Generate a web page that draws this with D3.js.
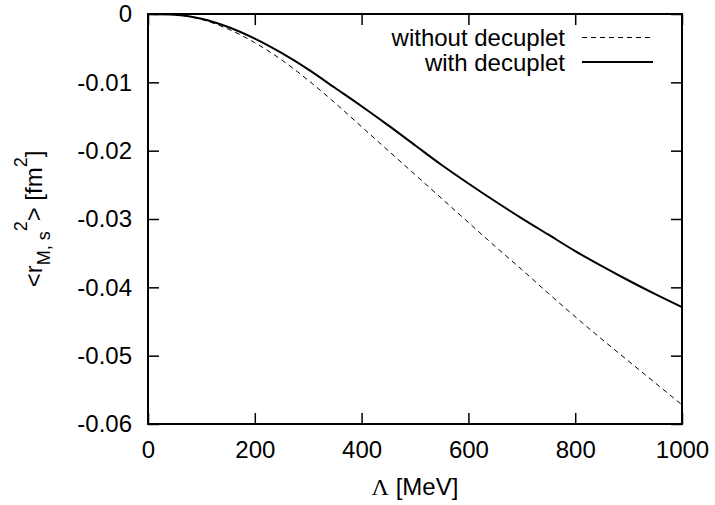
<!DOCTYPE html>
<html>
<head>
<meta charset="utf-8">
<script src="https://cdn.jsdelivr.net/npm/d3@7"></script>
<style>
  html, body { margin: 0; padding: 0; background: #fff; }
  svg { display: block; }
  text { font-family: "Liberation Sans", Arial, Helvetica, sans-serif; fill: #000; }
</style>
</head>
<body>
<svg id="chart" width="715" height="505"></svg>
<script>
// ---- data ----
const lambda = [0, 50, 100, 150, 200, 250, 300, 350, 400, 450, 500, 550, 600, 650, 700, 750, 800, 850, 900, 950, 1000];
const withDecuplet = [0, -0.0001, -0.0007, -0.0019, -0.0036, -0.0057, -0.0081, -0.0108, -0.0135, -0.0163, -0.0192, -0.0221, -0.0248, -0.0274, -0.0299, -0.0323, -0.0347, -0.0369, -0.0390, -0.0410, -0.0429];
const withoutDecuplet = [0, -0.0001, -0.0008, -0.0022, -0.0042, -0.0067, -0.0097, -0.0130, -0.0165, -0.0200, -0.0235, -0.0270, -0.0305, -0.0340, -0.0374, -0.0409, -0.0443, -0.0476, -0.0508, -0.0540, -0.0572];
const xTicks = [0, 200, 400, 600, 800, 1000];
const yTicks = [0, -0.01, -0.02, -0.03, -0.04, -0.05, -0.06];
const yTickLabels = ["0", "-0.01", "-0.02", "-0.03", "-0.04", "-0.05", "-0.06"];
const seriesNames = ["without decuplet", "with decuplet"];

// ---- layout ----
const L = 148, R = 682, T = 14, B = 424;
const FS = 24;
const svg = d3.select("#chart");

const x = d3.scaleLinear().domain([0, 1000]).range([L, R]);
const y = d3.scaleLinear().domain([-0.06, 0]).range([B, T]);

const tick = 11;
function styleAxis(g) {
  g.select(".domain").remove();
  g.selectAll(".tick line").attr("stroke", "#000").attr("stroke-width", 1.5);
  g.selectAll("text").attr("font-size", FS).attr("font-family", "'Liberation Sans', Arial, sans-serif").attr("fill", "#000");
}

svg.append("g").attr("transform", `translate(0,${B})`)
  .call(d3.axisBottom(x).tickValues(xTicks).tickFormat(d3.format("d")).tickSizeInner(-tick).tickSizeOuter(0).tickPadding(17))
  .call(styleAxis);
svg.append("g").attr("transform", `translate(0,${T})`)
  .call(d3.axisTop(x).tickValues(xTicks).tickFormat("").tickSizeInner(-tick).tickSizeOuter(0))
  .call(styleAxis);
svg.append("g").attr("transform", `translate(${L},0)`)
  .call(d3.axisLeft(y).tickValues(yTicks).tickFormat((d, i) => yTickLabels[i]).tickSizeInner(-tick).tickSizeOuter(0).tickPadding(16))
  .call(styleAxis);
svg.append("g").attr("transform", `translate(${R},0)`)
  .call(d3.axisRight(y).tickValues(yTicks).tickFormat("").tickSizeInner(-tick).tickSizeOuter(0))
  .call(styleAxis);

// frame
svg.append("rect").attr("x", L).attr("y", T).attr("width", R - L).attr("height", B - T)
  .attr("fill", "none").attr("stroke", "#000").attr("stroke-width", 2);

// curves
const line = d3.line().x((d, i) => x(lambda[i])).y(d => y(d)).curve(d3.curveMonotoneX);
svg.append("path").datum(withoutDecuplet).attr("d", line)
  .attr("fill", "none").attr("stroke", "#000").attr("stroke-width", 1).attr("stroke-dasharray", "5,4");
svg.append("path").datum(withDecuplet).attr("d", line)
  .attr("fill", "none").attr("stroke", "#000").attr("stroke-width", 2);

// legend
const legendTextX = 565, legendLineX1 = 582, legendLineX2 = 653;
const legendRows = [
  { name: seriesNames[0], yLine: 37.5, dash: "5,4", w: 1 },
  { name: seriesNames[1], yLine: 62, dash: null, w: 2 }
];
legendRows.forEach(r => {
  svg.append("text").attr("x", legendTextX).attr("y", r.yLine + 8.5)
    .attr("text-anchor", "end").attr("font-size", FS).text(r.name);
  const ln = svg.append("line").attr("x1", legendLineX1).attr("x2", legendLineX2)
    .attr("y1", r.yLine).attr("y2", r.yLine).attr("stroke", "#000").attr("stroke-width", r.w);
  if (r.dash) ln.attr("stroke-dasharray", r.dash);
});

// x axis title
const xt = svg.append("text").attr("x", (L + R) / 2).attr("y", 494.5).attr("text-anchor", "middle").attr("font-size", FS);
xt.append("tspan").attr("font-family", "'Liberation Serif', 'DejaVu Serif', serif").text("Λ");
xt.append("tspan").text(" [MeV]");

// y axis title
const yt = svg.append("text").attr("transform", `translate(42,${(T + B) / 2}) rotate(-90)`)
  .attr("text-anchor", "middle").attr("font-size", FS);
yt.append("tspan").text("<r");
yt.append("tspan").attr("font-size", 18).attr("dy", 8).text("M, s");
yt.append("tspan").attr("font-size", 18).attr("dy", -23).text("2");
yt.append("tspan").attr("dy", 15).text("> [fm");
yt.append("tspan").attr("font-size", 18).attr("dy", -15).text("2");
yt.append("tspan").attr("dy", 15).text("]");
</script>
</body>
</html>
